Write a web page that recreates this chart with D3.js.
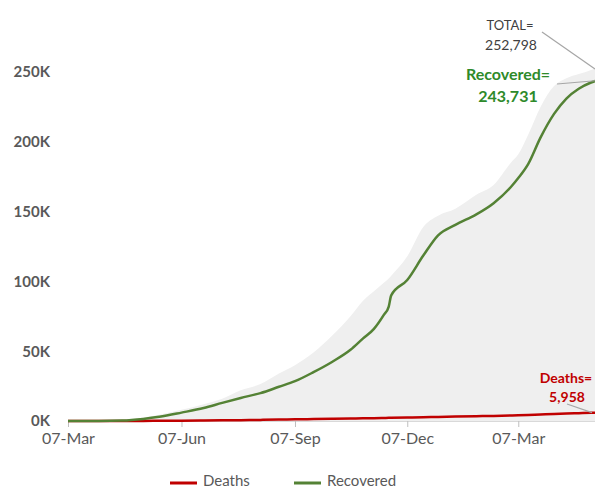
<!DOCTYPE html>
<html><head><meta charset="utf-8">
<script src="https://cdn.jsdelivr.net/npm/d3@7"></script>
<style>body{margin:0;background:#fff}svg{display:block}text{font-family:Lato,"Open Sans",sans-serif}</style>
</head><body><svg id="c" width="595" height="489"></svg>
<script>
const dates = ["2020-03-07","2020-04-01","2020-04-20","2020-05-07","2020-05-20","2020-06-07","2020-06-25","2020-07-10","2020-07-25","2020-08-10","2020-08-25","2020-09-07","2020-09-22","2020-10-07","2020-10-22","2020-11-01","2020-11-10","2020-11-18","2020-11-22","2020-11-24","2020-12-07","2020-12-20","2021-01-01","2021-01-15","2021-02-01","2021-02-15","2021-03-01","2021-03-07","2021-03-15","2021-03-25","2021-04-05","2021-04-15","2021-04-25","2021-05-05","2021-05-09"];
const total = [0,100,700,2500,4500,8000,12000,16000,22000,26500,34000,40000,49000,61000,75000,86000,93000,99000,102000,104000,118000,139000,147000,152000,162000,169000,185000,191000,205000,225000,240000,245500,248500,251500,252798];
const recovered = [0,0,300,1500,3000,6000,9300,13000,16500,20000,24500,28500,35000,42300,51000,59000,66000,76000,82000,90000,101000,118500,133000,140500,148000,156000,167600,174000,184000,203000,220000,231000,238000,242500,243731];
const deaths = [0,10,30,60,120,200,330,450,600,800,1000,1200,1400,1600,1800,1950,2050,2200,2250,2300,2500,2700,2950,3200,3450,3650,3950,4100,4350,4700,5050,5350,5600,5850,5958];
const xTickLabels = ["07-Mar","07-Jun","07-Sep","07-Dec","07-Mar"];
const xTickDates = ["2020-03-07","2020-06-07","2020-09-07","2020-12-07","2021-03-07"];
const yTicks = [0,50000,100000,150000,200000,250000];
const yTickLabels = ["0K","50K","100K","150K","200K","250K"];
const seriesNames = ["Deaths","Recovered"];
const annTotal = ["TOTAL=","252,798"], annRec = ["Recovered=","243,731"], annDeaths = ["Deaths=","5,958"];

const parse = d3.timeParse("%Y-%m-%d");
const data = dates.map((d,i)=>({date:parse(d),total:total[i],rec:recovered[i],deaths:deaths[i]}));
const svg = d3.select("#c");
const x = d3.scaleTime().domain([parse("2020-03-07"),parse("2021-05-09")]).range([68,596]);
const y = d3.scaleLinear().domain([0,250000]).range([421,72]);
const grey="#595959", green="#548235", red="#c00000";

svg.append("path").datum(data).attr("fill","#efefef")
  .attr("d",d3.area().x(d=>x(d.date)).y0(y(0)).y1(d=>y(d.total)).curve(d3.curveMonotoneX));

// x axis
const xa = svg.append("g").attr("transform",`translate(0,${y(0)})`)
  .call(d3.axisBottom(x).tickValues(xTickDates.map(parse)).tickFormat((d,i)=>xTickLabels[i]).tickSize(6).tickSizeOuter(0));
xa.select(".domain").attr("stroke","#d9d9d9");
xa.selectAll(".tick line").attr("stroke","#bfbfbf");
xa.selectAll("text").attr("fill",grey).attr("font-size","16px").attr("font-family","Lato").attr("dy","0.9em");

// y axis labels
const ya = svg.append("g").attr("transform","translate(50,0)")
  .call(d3.axisLeft(y).tickValues(yTicks).tickFormat((d,i)=>yTickLabels[i]).tickSize(0));
ya.select(".domain").remove();
ya.selectAll("text").attr("fill",grey).attr("font-size","15px").attr("font-weight","bold").attr("font-family","Lato").attr("x",0);

const line = k => d3.line().x(d=>x(d.date)).y(d=>y(d[k])).curve(d3.curveMonotoneX);
svg.append("path").datum(data).attr("fill","none").attr("stroke",red).attr("stroke-width",2.5).attr("d",line("deaths"));
svg.append("path").datum(data).attr("fill","none").attr("stroke",green).attr("stroke-width",2.5).attr("d",line("rec"));

// annotations
const last = data[data.length-1];
const lead = (x1,y1,x2,y2)=>svg.append("line").attr("x1",x1).attr("y1",y1).attr("x2",x2).attr("y2",y2).attr("stroke","#a6a6a6").attr("stroke-width",1.2);
lead(542,32,x(last.date)-1,y(last.total)+1);
lead(557,84,x(last.date)-1,y(last.rec));
lead(567,404,x(last.date)-4,y(last.deaths));
const txt=(t,xx,yy,fs,col,fw)=>svg.append("text").attr("x",xx).attr("y",yy).attr("text-anchor","middle").attr("font-size",fs).attr("fill",col).attr("font-weight",fw).text(t);
txt(annTotal[0],510,30,"13px","#404040","normal");
txt(annTotal[1],511,50,"14px","#404040","normal");
txt(annRec[0],508,80,"16px","#2e8a2a","bold");
txt(annRec[1],508,102,"16px","#2e8a2a","bold");
txt(annDeaths[0],566,383,"14px",red,"bold");
txt(annDeaths[1],567,402,"14px",red,"bold");

// legend
const lg=[{n:seriesNames[0],c:red,x:170},{n:seriesNames[1],c:green,x:294}];
lg.forEach(l=>{
  svg.append("line").attr("x1",l.x).attr("x2",l.x+27).attr("y1",483).attr("y2",483).attr("stroke",l.c).attr("stroke-width",3);
  svg.append("text").attr("x",l.x+33).attr("y",485.5).attr("font-size","15px").attr("fill",grey).text(l.n);
});
</script></body></html>
